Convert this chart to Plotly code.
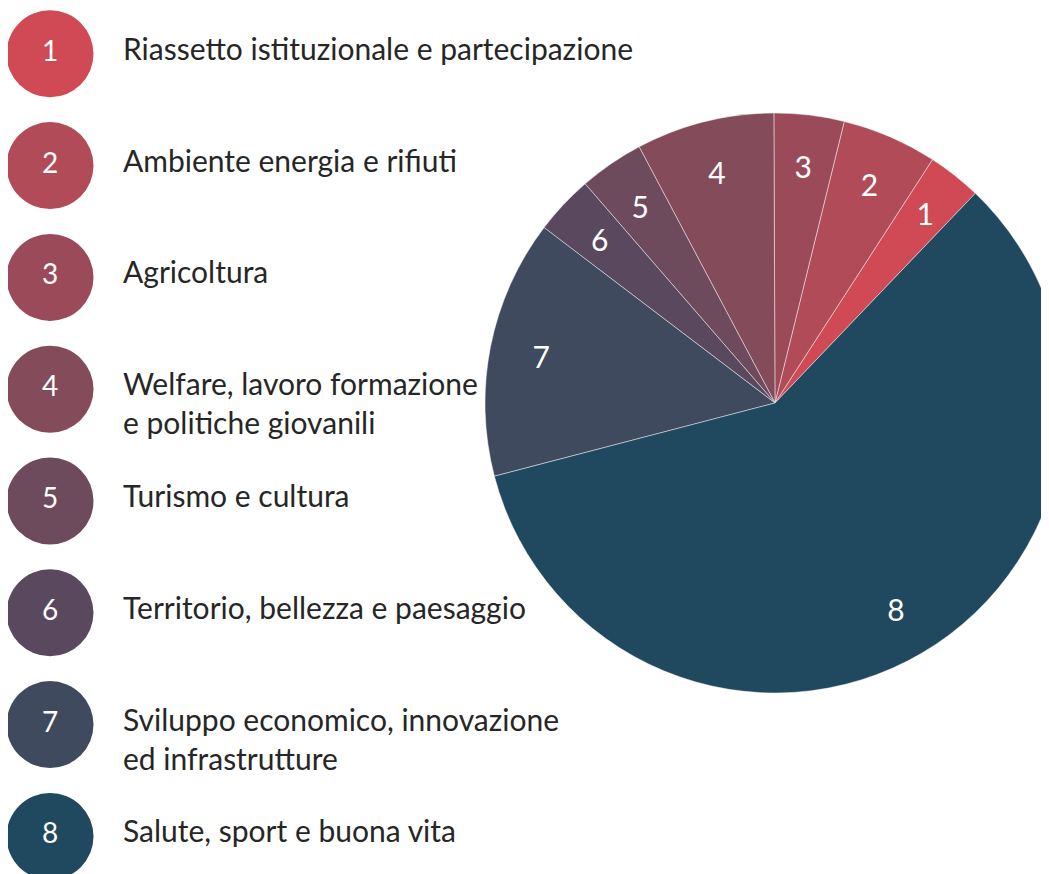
import plotly.graph_objects as go

# tematiche del piano e quota di ciascuna (in %)
numbers = ["1", "2", "3", "4", "5", "6", "7", "8"]
themes = [
    "Riassetto istituzionale e partecipazione",
    "Ambiente energia e rifiuti",
    "Agricoltura",
    "Welfare, lavoro formazione<br>e politiche giovanili",
    "Turismo e cultura",
    "Territorio, bellezza e paesaggio",
    "Sviluppo economico, innovazione<br>ed infrastrutture",
    "Salute, sport e buona vita",
]
shares = [3.0, 5.3, 3.9, 7.7, 3.6, 3.3, 14.4, 58.8]
colors = ["#d04a55", "#b24b58", "#9b4a5a", "#844c5b",
          "#6d4a5c", "#5a495e", "#3f4a5f", "#20485e"]

W, H = 1100, 866
cx, cy, R = 767, 395, 290   # pie centre and radius, px
R_TXT = 265                 # radius of the invisible ring carrying the numbers
ROW = 111.8                 # legend row pitch, px


def dom(r):
    return dict(x=[(cx - r) / W, (cx + r) / W],
                y=[(H - cy - r) / H, (H - cy + r) / H])


fig = go.Figure()

fig.add_trace(go.Pie(labels=numbers, values=shares, sort=False,
                     direction="counterclockwise", rotation=32.9,
                     marker=dict(colors=colors,
                                 line=dict(color="rgba(255,255,255,0.45)", width=1)),
                     textinfo="none", hoverinfo="label+percent",
                     domain=dom(R), showlegend=False))

# same slices again, transparent, just to place the numbers further out
fig.add_trace(go.Pie(labels=numbers, values=shares, sort=False,
                     direction="counterclockwise", rotation=32.9, hole=0.8,
                     marker=dict(colors=["rgba(0,0,0,0)"] * len(numbers),
                                 line=dict(width=0)),
                     textinfo="label", textposition="inside",
                     insidetextorientation="horizontal",
                     textfont=dict(family="Lato", size=30, color="white"),
                     insidetextfont=dict(family="Lato", size=30, color="white"),
                     hoverinfo="skip", domain=dom(R_TXT), showlegend=False))

rows = list(range(len(numbers)))

fig.add_trace(go.Scatter(x=[42] * len(rows), y=rows, mode="markers+text",
                         marker=dict(size=87, color=colors, line=dict(width=0)),
                         text=numbers, textposition="middle center",
                         textfont=dict(family="Lato", size=28, color="white"),
                         hoverinfo="skip", showlegend=False, cliponaxis=False))

fig.add_trace(go.Scatter(x=[115] * len(rows), y=[r - 0.148 for r in rows],
                         mode="text", text=themes, textposition="bottom right",
                         textfont=dict(family="Lato", size=30, color="#262626"),
                         hoverinfo="skip", showlegend=False))

top = -45.8 / ROW
fig.update_xaxes(range=[0, W], visible=False, fixedrange=True)
fig.update_yaxes(range=[top + H / ROW, top], visible=False, fixedrange=True)

fig.update_layout(width=W, height=H, margin=dict(l=0, r=0, t=0, b=0),
                  paper_bgcolor="white", plot_bgcolor="white",
                  font=dict(family="Lato"))

fig.write_html("out.html")
